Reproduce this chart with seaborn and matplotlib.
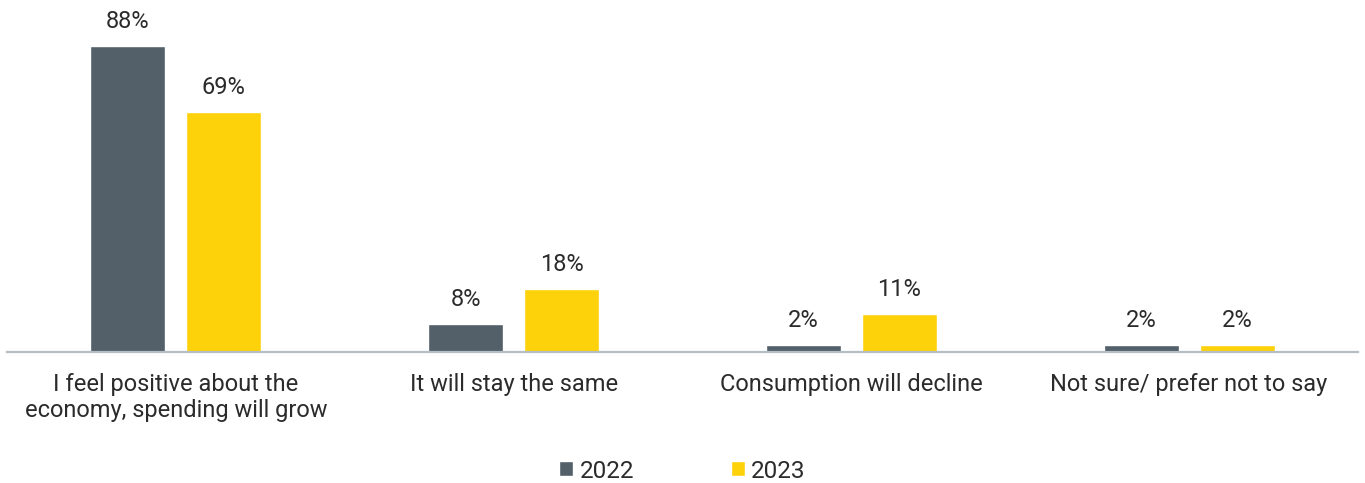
import matplotlib
matplotlib.use("Agg")
import matplotlib.pyplot as plt
import seaborn as sns
import pandas as pd

categories = ["I feel positive about the\neconomy, spending will grow",
              "It will stay the same",
              "Consumption will decline",
              "Not sure/ prefer not to say"]
years = ["2022", "2023"]
values_2022 = [88, 8, 2, 2]
values_2023 = [69, 18, 11, 2]

sns.set_theme(style="white")
plt.rcParams["font.family"] = ["Roboto", "DejaVu Sans"]

df = pd.DataFrame({
    "category": categories * 2,
    "year": [years[0]] * 4 + [years[1]] * 4,
    "value": values_2022 + values_2023,
})

colors = {"2022": "#535f69", "2023": "#fdd20a"}
text_color = "#2b2b2b"
fs = 17

fig = plt.figure(figsize=(13.65, 4.83), dpi=100)
ax = fig.add_axes([7 / 1365, (483 - 352) / 483, 1351 / 1365, 352 / 483])

sns.barplot(data=df, x="category", y="value", hue="year", palette=colors,
            width=0.568, gap=0.218, ax=ax, saturation=1, errorbar=None)

for c in ax.containers:
    ax.bar_label(c, labels=[f"{v:.0f}%" for v in c.datavalues], padding=9.5,
                 fontsize=fs, color=text_color)

ax.set_xlim(-0.5, 3.5)
ax.set_ylim(0, 101.2)
ax.set_xlabel("")
ax.set_ylabel("")
ax.set_yticks([])
for s in ["top", "left", "right"]:
    ax.spines[s].set_visible(False)
ax.spines["bottom"].set_color("#b4bec4")
ax.spines["bottom"].set_linewidth(1.6)
ax.tick_params(axis="x", length=0, pad=15, labelsize=fs, labelcolor=text_color)
for lbl in ax.get_xticklabels():
    lbl.set_linespacing(1.15)

handles, labels = ax.get_legend_handles_labels()
ax.get_legend().remove()
fig.legend(handles, labels, loc="center", bbox_to_anchor=(0.5, 1 - 471 / 483),
           ncol=2, frameon=False, fontsize=17.5, handlelength=0.58, handleheight=0.58,
           handletextpad=0.25, columnspacing=4.0, labelcolor=text_color)

fig.savefig("out.png", dpi=100)
